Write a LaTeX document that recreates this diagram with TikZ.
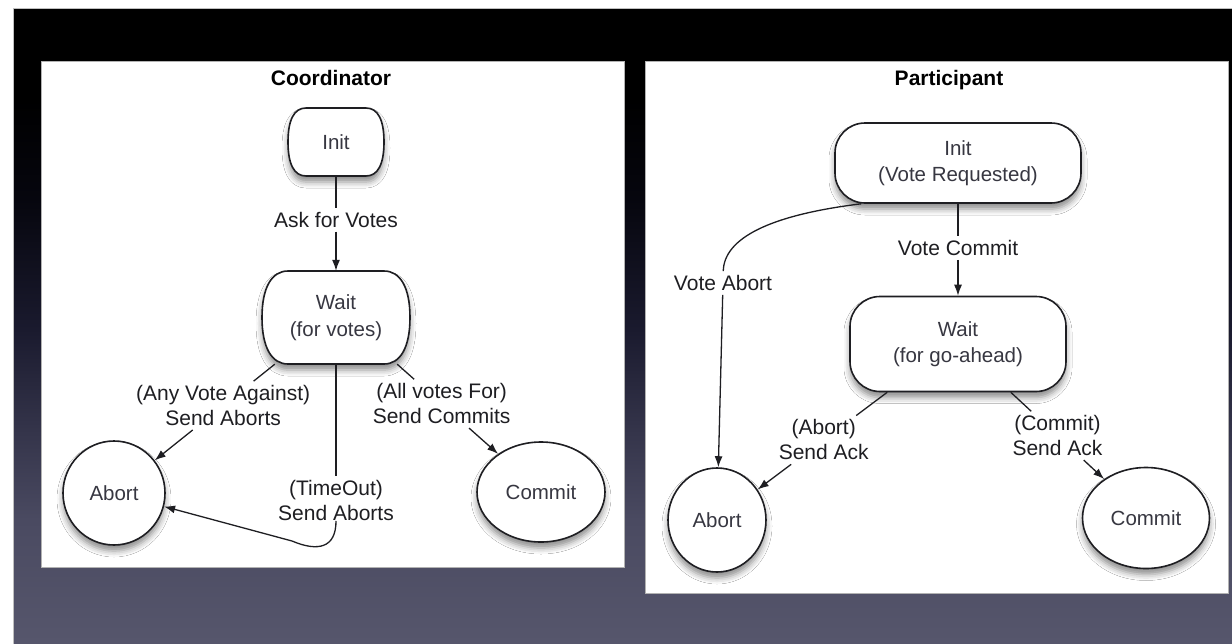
\documentclass[tikz,border=0pt]{standalone}
\usepackage{fontspec}
\setmainfont{Liberation Sans}
\usetikzlibrary{shadows.blur,arrows.meta,shapes.geometric}
\definecolor{bga}{RGB}{86,86,108}
\definecolor{bgb}{RGB}{74,74,97}
\definecolor{bgc}{RGB}{52,52,74}
\definecolor{bgd}{RGB}{26,26,46}
\definecolor{bge}{RGB}{6,6,14}
\definecolor{ink}{RGB}{30,30,34}
\definecolor{nodeink}{RGB}{55,55,65}
\pgfdeclareverticalshading{bgshade}{100bp}{color(0bp)=(bga); color(25bp)=(bga); color(34.7bp)=(bgb); color(41.8bp)=(bgc); color(49.7bp)=(bgd); color(60bp)=(bge); color(67.8bp)=(black); color(100bp)=(black)}
\newcommand{\barrelshape}[6]{%
  \path[barrel] (#1+#6,#2) -- (#3-#6,#2)
    .. controls (#3,#2) and (#3+#5,#2+#6) .. (#3+#5,{(#2+#4)/2})
    .. controls (#3+#5,#4-#6) and (#3,#4) .. (#3-#6,#4)
    -- (#1+#6,#4)
    .. controls (#1,#4) and (#1-#5,#4-#6) .. (#1-#5,{(#2+#4)/2})
    .. controls (#1-#5,#2+#6) and (#1,#2) .. (#1+#6,#2) -- cycle;}
\tikzset{
  lbl/.style={font=\fontsize{21}{25}\selectfont, text=ink, align=center, fill=white, inner xsep=3pt, inner ysep=4pt},
  ttl/.style={font=\fontsize{21}{25}\selectfont\bfseries, text=black, inner sep=0pt},
  statetext/.style={font=\fontsize{20.5}{26.5}\selectfont, text=nodeink, align=center},
  shadowed/.style={blur shadow={shadow xshift=0pt, shadow yshift=-6pt, shadow blur radius=6pt, shadow opacity=45}},
  state/.style={statetext, draw=ink, line width=1.6pt, fill=white, shadowed},
  roundstate/.style={state, ellipse, inner sep=0pt},
  pillstate/.style={state, rectangle, rounded corners=30pt, inner sep=0pt},
  bare/.style={statetext, inner sep=0pt},
  barrel/.style={draw=ink, line width=1.6pt, fill=white, shadowed},
  wire/.style={draw=ink, line width=1.3pt},
  conn/.style={wire, -{Latex[length=11pt,width=8pt]}},
  panel/.style={fill=white, draw=black!30, line width=0.8pt},
}
\begin{document}
\begin{tikzpicture}[x=1pt,y=-1pt]
\useasboundingbox (0,0) rectangle (1232,643);
% background
\fill[white] (0,0) rectangle (1232,643);
\shade[shading=bgshade] (13.5,8.5) rectangle (1232,643);
\draw[black!25, line width=1pt] (13.5,643) -- (13.5,8.5) -- (1232,8.5);
% panels
\draw[panel] (41,61) rectangle (624,567);
\draw[panel] (645,61) rectangle (1228,593);

% ---------------- Coordinator ----------------
\node[ttl] (ctitle) at (331,78) {Coordinator};
\barrelshape{294}{108}{378}{176}{6}{12}
\node[bare, minimum width=96pt, minimum height=68pt] (cinit) at (336,142) {Init};
\barrelshape{272}{271}{400}{364}{10}{16}
\node[bare, minimum width=148pt, minimum height=93pt] (cwait) at (336,317.5) {Wait\\(for votes)};
\node[roundstate, minimum width=102pt, minimum height=104pt] (cabort) at (114,493) {Abort};
\node[roundstate, minimum width=128pt, minimum height=100pt] (ccommit) at (541,492) {Commit};

\path (cinit) -- node[lbl,pos=0.46] (lask) {Ask for Votes} (cwait);
\path ([xshift=13pt]cwait.south west) -- node[lbl,pos=0.43] (lany) {(Any Vote Against)\\Send Aborts} (cabort);
\path ([xshift=-13pt]cwait.south east) -- node[lbl,pos=0.44] (lall) {(All votes For)\\Send Commits} (ccommit);
\path (cwait.south) -- node[lbl,pos=0.87] (ltime) {(TimeOut)\\Send Aborts} (336,521);

\draw[wire] (cinit) -- (lask);
\draw[conn] (lask) -- (cwait);
\draw[wire] ([xshift=13pt]cwait.south west) -- (lany);
\draw[conn] (lany) -- (cabort);
\draw[wire] ([xshift=-13pt]cwait.south east) -- (lall);
\draw[conn] (lall) -- (ccommit);
\draw[wire] (cwait.south) -- (ltime);
\draw[conn] (ltime) -- (336,521)
  .. controls (336,548) and (318,552) .. (292,541) -- (cabort);

% ---------------- Participant ----------------
\node[ttl] (ptitle) at (949,80) {Participant};
\node[pillstate, minimum width=246pt, minimum height=80pt] (rinit) at (958,163) {Init\\(Vote Requested)};
\node[pillstate, minimum width=216pt, minimum height=95pt] (rwait) at (958,344) {Wait\\(for go-ahead)};
\node[roundstate, minimum width=98pt, minimum height=104pt] (rabort) at (717,520) {Abort};
\node[roundstate, minimum width=127pt, minimum height=101pt] (rcommit) at (1146,518) {Commit};

\path (rinit) -- node[lbl,pos=0.48] (lvc) {Vote Commit} (rwait);
\node[lbl] (lva) at (723,283) {Vote Abort};
\path ([xshift=38pt]rwait.south west) -- node[lbl,pos=0.49] (lpa) {(Abort)\\Send Ack} (rabort);
\path ([xshift=-56pt]rwait.south east) -- node[lbl,pos=0.5] (lpc) {(Commit)\\Send Ack} (rcommit);

\draw[wire] (rinit) -- (lvc);
\draw[conn] (lvc) -- (rwait);
\draw[wire] ([xshift=27pt]rinit.south west) .. controls (770,215) and (724,238) .. (lva);
\draw[conn] (lva) -- (rabort);
\draw[wire] ([xshift=38pt]rwait.south west) -- (lpa);
\draw[conn] (lpa) -- (rabort);
\draw[wire] ([xshift=-56pt]rwait.south east) -- (lpc);
\draw[conn] (lpc) -- (rcommit);
\end{tikzpicture}
\end{document}
